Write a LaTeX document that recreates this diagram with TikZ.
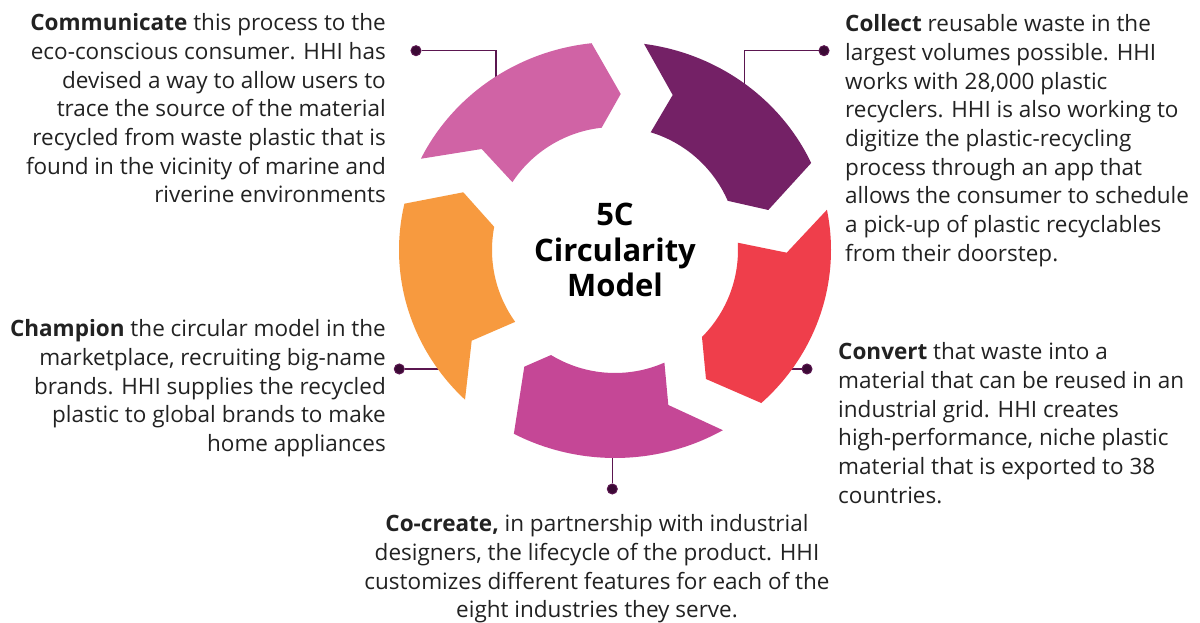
\documentclass[tikz,border=0pt]{standalone}
\usepackage{fontspec}
\setmainfont{Open Sans}
\definecolor{cPinkA}{HTML}{D063A5}
\definecolor{cPurple}{HTML}{742166}
\definecolor{cRed}{HTML}{EF3E4B}
\definecolor{cPinkB}{HTML}{C54796}
\definecolor{cOrange}{HTML}{F79A3F}
\definecolor{cLine}{HTML}{5B1650}
\definecolor{cDot}{HTML}{3B0A35}
\definecolor{cText}{HTML}{222222}
\begin{document}
\begin{tikzpicture}[x=1pt,y=1pt,
  txt/.style={inner sep=0pt, text=cText, font=\fontsize{22.5}{28.7}\selectfont},
  title/.style={inner sep=0pt, text=black, align=center, font=\fontsize{31}{35.5}\selectfont\bfseries},
  dot/.style={circle, fill=cDot, draw=cLine, line width=1pt, minimum size=10pt, inner sep=0pt},
  conn/.style={draw=cLine, line width=1.6pt}]
\useasboundingbox (0,0) rectangle (1200,623);
\fill[white] (0,0) rectangle (1200,623);

% connector anchors
\node[dot] (d1) at (416,572.3) {};
\coordinate (e1) at (496,538);
\node[dot] (d2) at (824,572.3) {};
\coordinate (e2) at (744.3,531);
\node[dot] (d3) at (807,254) {};
\coordinate (e3) at (780,254);
\node[dot] (d4) at (399.3,254) {};
\coordinate (e4) at (450,254);
\node[dot] (d5) at (612.3,134) {};
\coordinate (e5) at (612.3,178);
\draw[conn] (d1) -| (e1);
\draw[conn] (d2) -| (e2);
\draw[conn] (d3) -- (e3);
\draw[conn] (d4) -- (e4);
\draw[conn] (d5) -- (e5);

% ring segments
\begin{scope}[shift={(615,373)}]
\fill[cPinkA] (153.98:216 and 208) arc[start angle=153.98, end angle=96.22, x radius=216, y radius=208]
  -- (5.7,156) -- (96.24:123) arc[start angle=96.24, end angle=146.53, radius=123] -- (-133.3,101) -- cycle;
\fill[cPurple] (82.27:216 and 208) arc[start angle=82.27, end angle=24.73, x radius=216, y radius=208]
  -- (153.3,40) -- (23.57:123) arc[start angle=23.57, end angle=73.13, radius=123] -- (57.7,155) -- cycle;
\fill[cRed] (11.15:216 and 208) arc[start angle=11.15, end angle=-47.37, x radius=216, y radius=208]
  -- (91,-129) -- (-45:123) arc[start angle=-45, end angle=3.39, radius=123] -- (171.7,-2.7) -- cycle;
\fill[cPinkB] (-60.04:216 and 208) arc[start angle=-60.04, end angle=-117.92, x radius=216, y radius=208]
  -- (-90.7,-116.7) -- (-121.35:123) arc[start angle=-121.35, end angle=-66.32, radius=123] -- (53.3,-155) -- cycle;
\fill[cOrange] (226.02:216 and 208) arc[start angle=226.02, end angle=167.14, x radius=216, y radius=208]
  -- (-151.7,57.7) -- (169.16:123) arc[start angle=169.16, end angle=215.75, radius=123] -- (-143.3,-90.7) -- cycle;
\end{scope}

\node[title] (t) at (615,373) {5C\\Circularity\\Model};

\node[txt, anchor=north east, align=right] (communicate) at (386,609.5) {\textbf{Communicate} this process to the\\
eco-conscious consumer. HHI has\\
devised a way to allow users to\\
trace the source of the material\\
recycled from waste plastic that is\\
found in the vicinity of marine and\\
riverine environments};

\node[txt, anchor=north west, align=left] (collect) at (845,608.5) {\textbf{Collect} reusable waste in the\\
largest volumes possible. HHI\\
works with 28,000 plastic\\
recyclers. HHI is also working to\\
digitize the plastic-recycling\\
process through an app that\\
allows the consumer to schedule\\
a pick-up of plastic recyclables\\
from their doorstep.};

\node[txt, anchor=north west, align=left] (convert) at (838,280.5) {\textbf{Convert} that waste into a\\
material that can be reused in an\\
industrial grid. HHI creates\\
high-performance, niche plastic\\
material that is exported to 38\\
countries.};

\node[txt, anchor=north east, align=right] (champion) at (386,303.5) {\textbf{Champion} the circular model in the\\
marketplace, recruiting big-name\\
brands. HHI supplies the recycled\\
plastic to global brands to make\\
home appliances};

\node[txt, anchor=north, align=center] (cocreate) at (597,108.5) {\textbf{Co-create,} in partnership with industrial\\
designers, the lifecycle of the product. HHI\\
customizes different features for each of the\\
eight industries they serve.};
\end{tikzpicture}
\end{document}
